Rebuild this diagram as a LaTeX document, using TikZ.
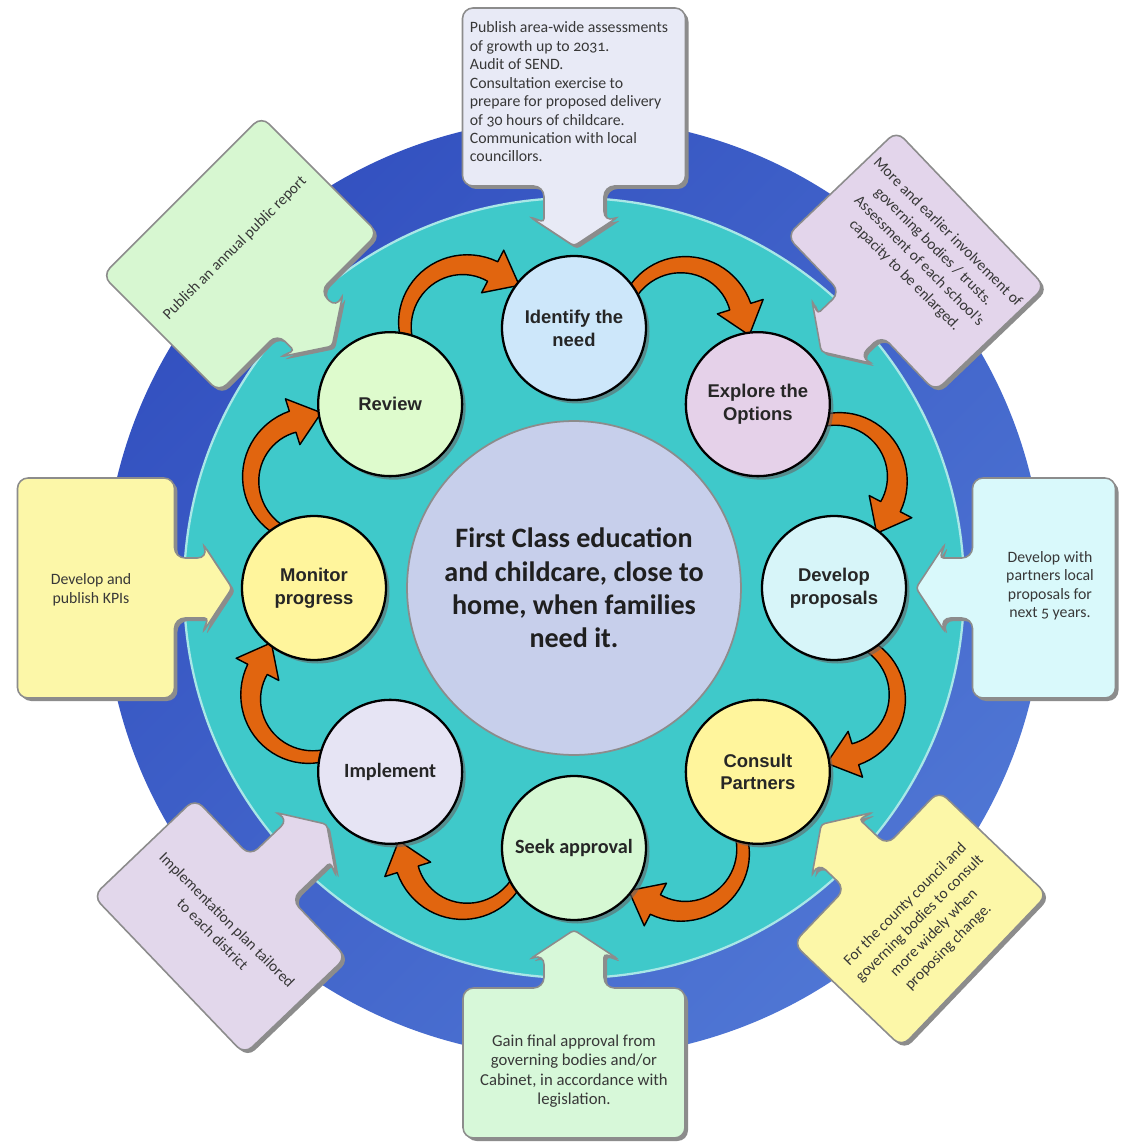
\documentclass[tikz,border=0pt]{standalone}
\usepackage{fontspec}
\setmainfont{Carlito}[Numbers=OldStyle]
\newfontfamily\arialf{Liberation Sans}
\usetikzlibrary{calc,shadows}
\definecolor{ringA}{HTML}{3351C0}
\definecolor{ringB}{HTML}{4F76D4}
\definecolor{pool}{HTML}{3FC9CA}
\definecolor{goalfill}{HTML}{C7CFEB}
\definecolor{flow}{HTML}{E1650F}
\definecolor{c1}{HTML}{CDE7FA}
\definecolor{c2}{HTML}{E5D1E9}
\definecolor{c3}{HTML}{D7F5F9}
\definecolor{c4}{HTML}{FFF59C}
\definecolor{c5}{HTML}{D6F8D3}
\definecolor{c6}{HTML}{E6E4F4}
\definecolor{c7}{HTML}{FFF59C}
\definecolor{c8}{HTML}{DEFBCD}
\definecolor{k1}{HTML}{E8EAF6}
\definecolor{k2}{HTML}{E3D5EB}
\definecolor{k3}{HTML}{D9F9FB}
\definecolor{k4}{HTML}{FCF7A8}
\definecolor{k5}{HTML}{D7F8D9}
\definecolor{k6}{HTML}{E2D7EB}
\definecolor{k7}{HTML}{FCF7A8}
\definecolor{k8}{HTML}{D7F7D1}
% callout: angle, distance of box centre, width, depth, colour
\newcommand{\calloutpath}{(0,\cbtop) [rounded corners=6pt] -- (\cbhw,\cbtop) -- (\cbhw,\cbbot) -- (30,\cbbot) -- (30,366)
  [rounded corners=2pt] -- (44,371) -- (0,342) -- (-44,371) -- (-30,366)
  [rounded corners=6pt] -- (-30,\cbbot) -- (-\cbhw,\cbbot) -- (-\cbhw,\cbtop) -- cycle}
\newcommand{\callout}[5]{%
  \pgfmathsetmacro{\cbhw}{#3/2}\pgfmathsetmacro{\cbtop}{#2+#4/2}\pgfmathsetmacro{\cbbot}{#2-#4/2}%
  \path[fill=black!45, shift={(3,-3)}, rotate=#1-90] \calloutpath;
  \path[fill=#5, draw=black!45, line width=0.9pt, rotate=#1-90] \calloutpath;}

\begin{document}
\begin{tikzpicture}[x=0.02cm, y=0.02cm,
  stage/.style={circle, draw=black, line width=1.3pt, minimum size=2.88cm, inner sep=0pt, align=center,
    text=black!85, font=\arialf\bfseries\fontsize{10.5}{13}\selectfont,
    drop shadow={shadow xshift=2pt, shadow yshift=-2pt, fill=black!60, opacity=0.6}},
  cstage/.style={stage, font=\bfseries\fontsize{11.5}{14}\selectfont},
  note/.style={font=\fontsize{9}{10.5}\selectfont, text=black!78, align=center, inner sep=0pt},
  tilt/.style={note, font=\fontsize{8.8}{11.5}\selectfont},
  jump/.style={fill=flow, draw=black, line width=0.8pt, line join=round}]
  \useasboundingbox[fill=white] (-574,-558) rectangle (547,588);
  % wheel
  \shade[top color=ringA, bottom color=ringB, shading angle=45] (0,0) circle (470);
  \fill[pool, draw=white!55!pool, line width=1.3pt] (0,0) circle (390);
  \node[circle, fill=goalfill, draw=black!45, line width=1pt, minimum size=6.68cm, align=center,
    text=black!88, font=\bfseries\fontsize{16}{19}\selectfont] (goal) at (0,0)
    {First Class education\\and childcare, close to\\home, when families\\need it.};
  % callouts
  \callout{90}{491}{223}{178}{k1}
  \callout{43.7}{473}{215}{152}{k2}
  \callout{0}{470}{220}{143}{k3}
  \callout{-43.7}{479}{211}{150}{k4}
  \callout{-90}{475}{222}{150}{k5}
  \callout{-136.3}{490}{219}{141}{k6}
  \callout{180}{478}{220}{157}{k7}
  \callout{135}{472}{225}{165}{k8}
  % curved arrows between stages
  \foreach \m in {112.5,67.5,22.5,-22.5,-67.5,-112.5,-157.5,157.5} {
    \begin{scope}[rotate=\m-90]
      \path[jump] plot[domain=190:40, samples=30, variable=\t]
          ({(65+12*(190-\t)/300)*cos(\t)}, {285+(65+12*(190-\t)/300)*sin(\t)})
        -- ($(0,285)+(40:84)$) -- ($(0,285)+(40:60)+(-50:30)$) -- ($(0,285)+(40:36)$)
        -- plot[domain=40:190, samples=30, variable=\t]
          ({(55-12*(190-\t)/300)*cos(\t)}, {285+(55-12*(190-\t)/300)*sin(\t)}) -- cycle;
    \end{scope}
  }
  % stages
  \node[stage, fill=c1] (need) at (90:260) {Identify the\\need};
  \node[stage, fill=c2] (opts) at (45:260) {Explore the\\Options};
  \node[stage, fill=c3] (prop) at (0:260) {Develop\\proposals};
  \node[stage, fill=c4] (cons) at (-45:260) {Consult\\Partners};
  \node[cstage, fill=c5] (appr) at (-90:260) {Seek approval};
  \node[cstage, fill=c6] (impl) at (-135:260) {Implement};
  \node[stage, fill=c7] (mon) at (180:260) {Monitor\\progress};
  \node[stage, fill=c8] (rev) at (135:260) {Review};
  % callout texts
  \node[note, align=left] (tneed) at (-5,496) {Publish area-wide assessments\\of growth up to 2031.\\Audit of SEND.\\Consultation exercise to\\prepare for proposed delivery\\of 30 hours of childcare.\\Communication with local\\councillors.};
  \node[tilt, rotate=-45] (topts) at (352,334) {More and earlier involvement of\\governing bodies / trusts.\\Assessment of each school's\\capacity to be enlarged.};
  \node[note] (tprop) at (476,2) {Develop with\\partners local\\proposals for\\next 5 years.};
  \node[tilt, rotate=45] (tcons) at (353,-338) {For the county council and\\governing bodies to consult\\more widely when\\proposing change.};
  \node[note, font=\fontsize{9.5}{11}\selectfont] (tappr) at (0,-483) {Gain final approval from\\governing bodies and/or\\Cabinet, in accordance with\\legislation.};
  \node[tilt, rotate=-45] (timpl) at (-354,-339) {Implementation plan tailored\\to each district};
  \node[note] (tmon) at (-483,-2) {Develop and\\publish KPIs};
  \node[tilt, rotate=45] (trev) at (-339,340) {Publish an annual public report};
\end{tikzpicture}
\end{document}
